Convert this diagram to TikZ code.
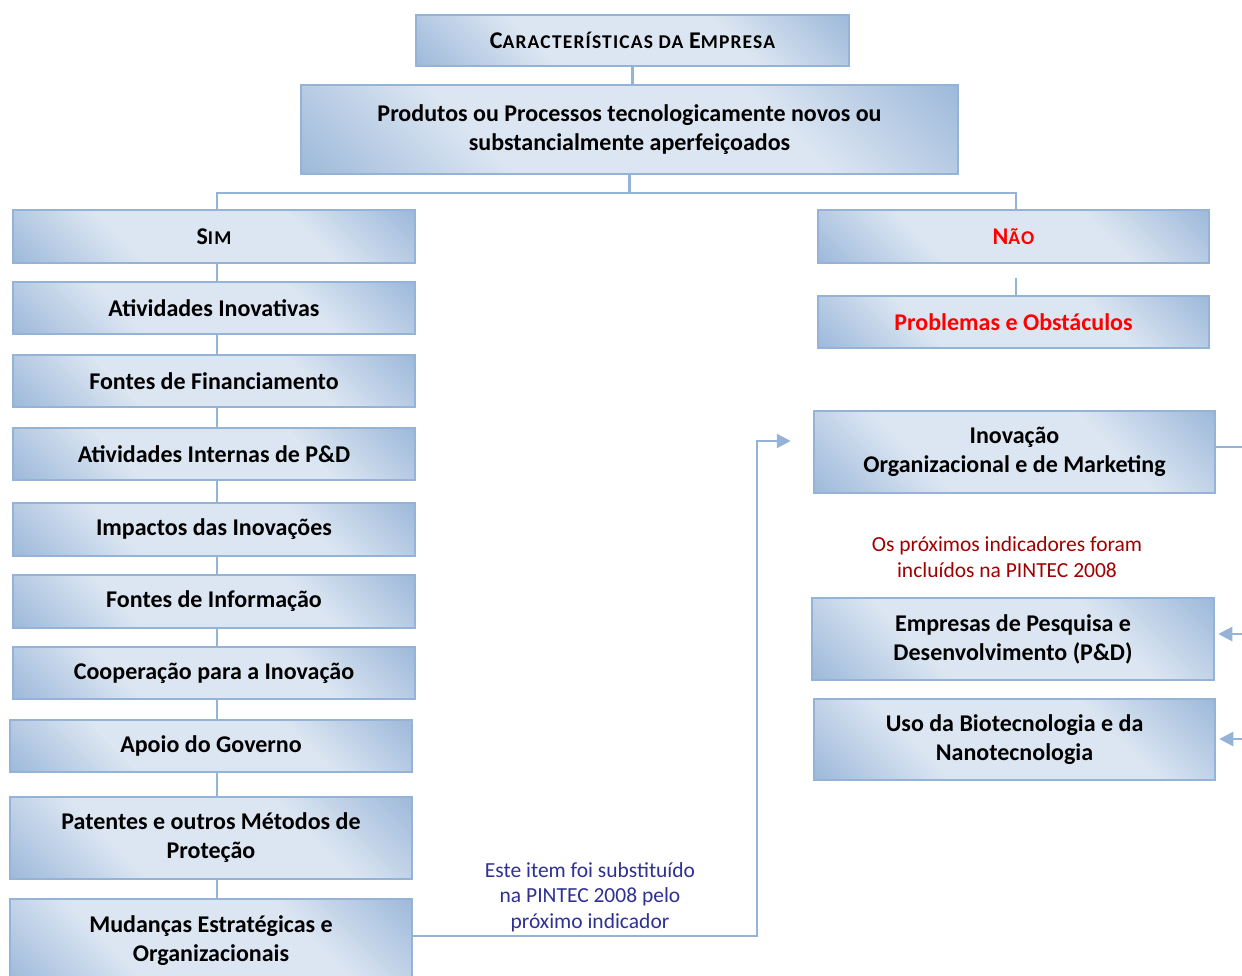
\documentclass[tikz,border=0pt]{standalone}
\usepackage{fontspec}
\setmainfont{Carlito}
\usetikzlibrary{arrows.meta}
\definecolor{dk}{HTML}{95B3D7}
\definecolor{lt}{HTML}{DCE6F2}
\definecolor{bordc}{HTML}{95B3D7}
\definecolor{redt}{HTML}{FF0000}
\definecolor{dred}{HTML}{A00000}
\definecolor{bluet}{HTML}{2E3192}
\pgfdeclareverticalshading{boxshade}{100bp}{color(0bp)=(dk); color(12bp)=(dk); color(35bp)=(lt); color(65bp)=(lt); color(88bp)=(dk); color(100bp)=(dk)}
\newcommand{\mysc}[2]{{\fontsize{24}{29}\selectfont #1}{\fontsize{19.5}{29}\selectfont\addfontfeatures{LetterSpace=6}#2}}
\begin{document}
\begin{tikzpicture}[x=1pt,y=-1pt,
  box/.style={draw=bordc, line width=2.5pt, shading=boxshade, shading angle=-45,
    inner sep=0pt, align=center, font=\fontsize{24}{29}\selectfont\bfseries},
  conn/.style={draw=bordc, line width=2.5pt},
  arr/.style={conn, -{Triangle[length=14pt,width=14pt]}},
  note/.style={align=center, font=\fontsize{21.5}{25.5}\selectfont}]
\useasboundingbox (0,0) rectangle (1242,975);
\clip (0,0) rectangle (1242,975);
\fill[white] (0,0) rectangle (1242,975);

% top
\node[box, minimum width=433pt, minimum height=51pt] (top) at (632.5,40.5)
  {\mysc{C}{ARACTERÍSTICAS DA }\mysc{E}{MPRESA}};
\node[box, minimum width=657pt, minimum height=89pt] (prod) at (629.5,129.5)
  {Produtos ou Processos tecnologicamente novos ou\\substancialmente aperfeiçoados};

% left column
\node[box, minimum width=402pt, minimum height=53pt] (sim) at (214,236.5) {\mysc{S}{IM}};
\node[box, minimum width=402pt, minimum height=52pt] (ativ) at (214,308) {Atividades Inovativas};
\node[box, minimum width=402pt, minimum height=52pt] (fontes) at (214,381) {Fontes de Financiamento};
\node[box, minimum width=402pt, minimum height=52pt] (internas) at (214,454) {Atividades Internas de P\&D};
\node[box, minimum width=402pt, minimum height=53pt] (impactos) at (214,529.5) {Impactos das Inovações};
\node[box, minimum width=402pt, minimum height=53pt] (info) at (214,601.5) {Fontes de Informação};
\node[box, minimum width=402pt, minimum height=52pt] (coop) at (214,673) {Cooperação para a Inovação};
\node[box, minimum width=402pt, minimum height=52pt] (apoio) at (211,746) {Apoio do Governo};
\node[box, minimum width=402pt, minimum height=82pt] (patentes) at (211,838) {Patentes e outros Métodos de\\Proteção};
\node[box, minimum width=402pt, minimum height=84pt] (mudancas) at (211,941) {Mudanças Estratégicas e\\Organizacionais};

% right column
\node[box, minimum width=391pt, minimum height=53pt, text=redt] (nao) at (1013.5,236.5) {\mysc{N}{ÃO}};
\node[box, minimum width=391pt, minimum height=52pt, text=redt] (prob) at (1013.5,322) {Problemas e Obstáculos};
\node[box, minimum width=401pt, minimum height=82pt] (inov) at (1014.5,452) {Inovação\\Organizacional e de Marketing};
\node[box, minimum width=402pt, minimum height=82pt] (empresas) at (1013,639) {Empresas de Pesquisa e\\Desenvolvimento (P\&D)};
\node[box, minimum width=401pt, minimum height=81pt] (uso) at (1014.5,739.5) {Uso da Biotecnologia e da\\Nanotecnologia};

% notes
\node[note, text=dred] (note1) at (1007,557) {Os próximos indicadores foram\\incluídos na PINTEC 2008};
\node[note, text=bluet] (note2) at (590,897) {Este item foi substituído\\na PINTEC 2008 pelo\\próximo indicador};

% connectors
\coordinate (spine) at (217,0);
\coordinate (nspine) at (1016,0);
\coordinate (bar) at (0,193);
\draw[conn] (top.south) -- (top.south |- prod.north);
\draw[conn] (prod.south) -- (prod.south |- bar);
\draw[conn] (spine |- sim.north) -- (spine |- bar) -- (nspine |- bar) -- (nspine |- nao.north);
\foreach \a/\b in {sim/ativ, ativ/fontes, fontes/internas, internas/impactos, impactos/info, info/coop, coop/apoio, apoio/patentes, patentes/mudancas}
  \draw[conn] (spine |- \a.south) -- (spine |- \b.north);
\draw[conn, shorten <=14pt] (nspine |- nao.south) -- (nspine |- prob.north);

\coordinate (inovout) at (1250,447);
\draw[conn] (inov.east |- inovout) -- (inovout);
\coordinate (eout) at (1250,634);
\draw[arr, shorten >=3pt] (eout) -- (eout -| empresas.east);
\coordinate (uout) at (1250,739);
\draw[arr, shorten >=3pt] (uout) -- (uout -| uso.east);

\coordinate (mudout) at (412,936);
\coordinate (via) at (757,441);
\draw[arr, shorten >=22pt] (mudancas.east |- mudout) -| (via) -- (via -| inov.west);
\end{tikzpicture}
\end{document}
